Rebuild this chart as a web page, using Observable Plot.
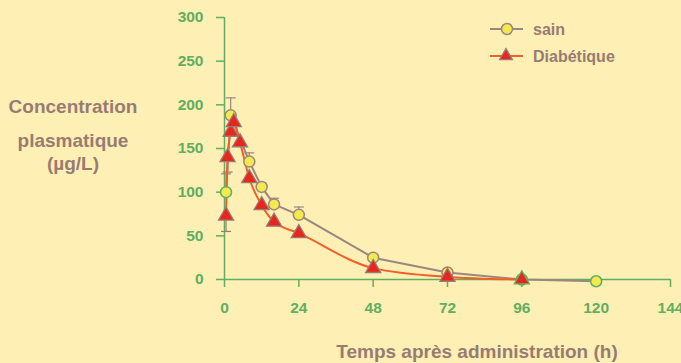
<!DOCTYPE html>
<html><head><meta charset="utf-8">
<script src="https://cdn.jsdelivr.net/npm/d3@7"></script>
<script src="https://cdn.jsdelivr.net/npm/@observablehq/plot@0.6"></script>
<style>
html,body{margin:0;padding:0;background:#FEEFB4;}
#wrap{position:relative;width:681px;height:363px;overflow:hidden;background:#FEEFB4;font-family:"Liberation Sans",Arial,sans-serif;font-weight:bold;}
#wrap > svg.plot{position:absolute;left:0;top:0;}
#overlay{position:absolute;left:0;top:0;pointer-events:none;}
</style></head>
<body><div id="wrap"></div>
<script>
// ---- data ----
const sainTime = [0.5, 2, 8, 12, 16, 24, 48, 72, 96, 120];
const sainConc = [100, 188, 135, 106, 86, 74, 25, 8, 0, -2];
const sainSD   = [21, 20, 10, 4, 7, 9, 3, 2, 0, 0];

const diabTime = [0.5, 1, 2, 3, 5, 8, 12, 16, 24, 48, 72, 96];
const diabConc = [73, 140, 169, 180, 157, 116, 85, 66, 53, 13, 3, 0];
const diabSD   = [18, 17, 0, 0, 0, 0, 0, 0, 0, 0, 0, 0];

const xTicks = [0, 24, 48, 72, 96, 120, 144];
const yTicks = [0, 50, 100, 150, 200, 250, 300];

const seriesNames = ["sain", "Diabétique"];
const xLabel = "Temps après administration (h)";
const yLabelLines = ["Concentration", "plasmatique", "(µg/L)"];

// ---- build tables ----
const sain = sainTime.map((t, i) => ({t, c: sainConc[i], sd: sainSD[i]}));
const diab = diabTime.map((t, i) => ({t, c: diabConc[i], sd: diabSD[i]}));

const GREEN = "#5FAE62";
const BROWN = "#987C73";
const SAIN_LINE = "#9C8680";
const DIAB_LINE = "#F0602A";
const RED = "#E8261E";
const YELLOW = "#F4EA4E";

const capSymbol = {
  draw(context, size) {
    const r = Math.sqrt(size / Math.PI);
    context.moveTo(-r, 0);
    context.lineTo(r, 0);
  }
};

const chart = Plot.plot({
  width: 681,
  height: 363,
  marginLeft: 224,
  marginRight: 11,
  marginTop: 17,
  marginBottom: 84,
  style: {background: "transparent", fontFamily: "Liberation Sans, Arial, sans-serif"},
  x: {domain: [0, 144]},
  y: {domain: [0, 300]},
  marks: [
    Plot.axisY({ticks: yTicks, tickSize: 8, tickPadding: 13, stroke: GREEN, fill: GREEN,
      strokeWidth: 1.5, fontSize: 15.5, fontWeight: "bold", label: null}),
    Plot.axisX({ticks: xTicks, tickSize: 8, tickPadding: 14, stroke: GREEN, fill: GREEN,
      strokeWidth: 1.5, fontSize: 15.5, fontWeight: "bold", label: null}),
    Plot.ruleX([0], {stroke: GREEN, strokeWidth: 1.5}),
    Plot.ruleY([0], {stroke: GREEN, strokeWidth: 1.5}),
    // error bars
    Plot.ruleX(sain.filter(d => d.sd > 0), {x: "t", y1: "c", y2: d => d.c + d.sd, stroke: SAIN_LINE, strokeWidth: 1.2}),
    Plot.dot(sain.filter(d => d.sd > 0), {x: "t", y: d => d.c + d.sd, symbol: capSymbol, r: 5, stroke: SAIN_LINE, strokeWidth: 1.2, fill: "none"}),
    Plot.ruleX(diab.filter(d => d.sd > 0), {x: "t", y1: "c", y2: d => d.c - d.sd, stroke: BROWN, strokeWidth: 1.2}),
    Plot.dot(diab.filter(d => d.sd > 0), {x: "t", y: d => d.c - d.sd, symbol: capSymbol, r: 5, stroke: BROWN, strokeWidth: 1.2, fill: "none"}),
    // lines
    Plot.line(sain, {x: "t", y: "c", stroke: SAIN_LINE, strokeWidth: 2}),
    Plot.line(diab, {x: "t", y: "c", stroke: DIAB_LINE, strokeWidth: 2, curve: "monotone-x"}),
    // markers
    Plot.dot(sain, {x: "t", y: "c", r: 5.5, fill: YELLOW,
      stroke: d => (d.t < 1 || d.c <= 0) ? GREEN : SAIN_LINE, strokeWidth: 1.5}),
    Plot.dot(diab, {x: "t", y: "c", symbol: "triangle", r: 5.6, fill: RED,
      stroke: d => d.c <= 0 ? GREEN : BROWN, strokeWidth: 1.3})
  ]
});
chart.classList.add("plot");
const wrap = document.getElementById("wrap");
wrap.appendChild(chart);

// ---- overlay: titles and legend ----
const ov = d3.select(wrap).append("svg").attr("id", "overlay").attr("width", 681).attr("height", 363);

ov.append("text").attr("x", 477).attr("y", 358).attr("text-anchor", "middle")
  .attr("font-size", 19).attr("font-weight", "bold").attr("fill", BROWN).text(xLabel);

const yBase = [113, 147, 170];
yLabelLines.forEach((s, i) => {
  ov.append("text").attr("x", 73).attr("y", yBase[i]).attr("text-anchor", "middle")
    .attr("font-size", 19).attr("font-weight", "bold").attr("fill", BROWN).text(s);
});

// legend
const lg = ov.append("g");
const rows = [{y: 29, name: seriesNames[0]}, {y: 56, name: seriesNames[1]}];
lg.append("line").attr("x1", 490).attr("x2", 523).attr("y1", rows[0].y).attr("y2", rows[0].y).attr("stroke", SAIN_LINE).attr("stroke-width", 2);
lg.append("circle").attr("cx", 507).attr("cy", rows[0].y).attr("r", 5.5).attr("fill", YELLOW).attr("stroke", SAIN_LINE).attr("stroke-width", 1.5);
lg.append("line").attr("x1", 490).attr("x2", 523).attr("y1", rows[1].y).attr("y2", rows[1].y).attr("stroke", DIAB_LINE).attr("stroke-width", 2);
lg.append("path").attr("transform", `translate(506,${rows[1].y})`).attr("d", d3.symbol(d3.symbolTriangle, 70)()).attr("fill", RED).attr("stroke", BROWN).attr("stroke-width", 1.3);
rows.forEach(r => {
  lg.append("text").attr("x", 533).attr("y", r.y).attr("dy", "0.36em").attr("font-size", 16)
    .attr("font-weight", "bold").attr("fill", BROWN).text(r.name);
});
</script></body></html>
